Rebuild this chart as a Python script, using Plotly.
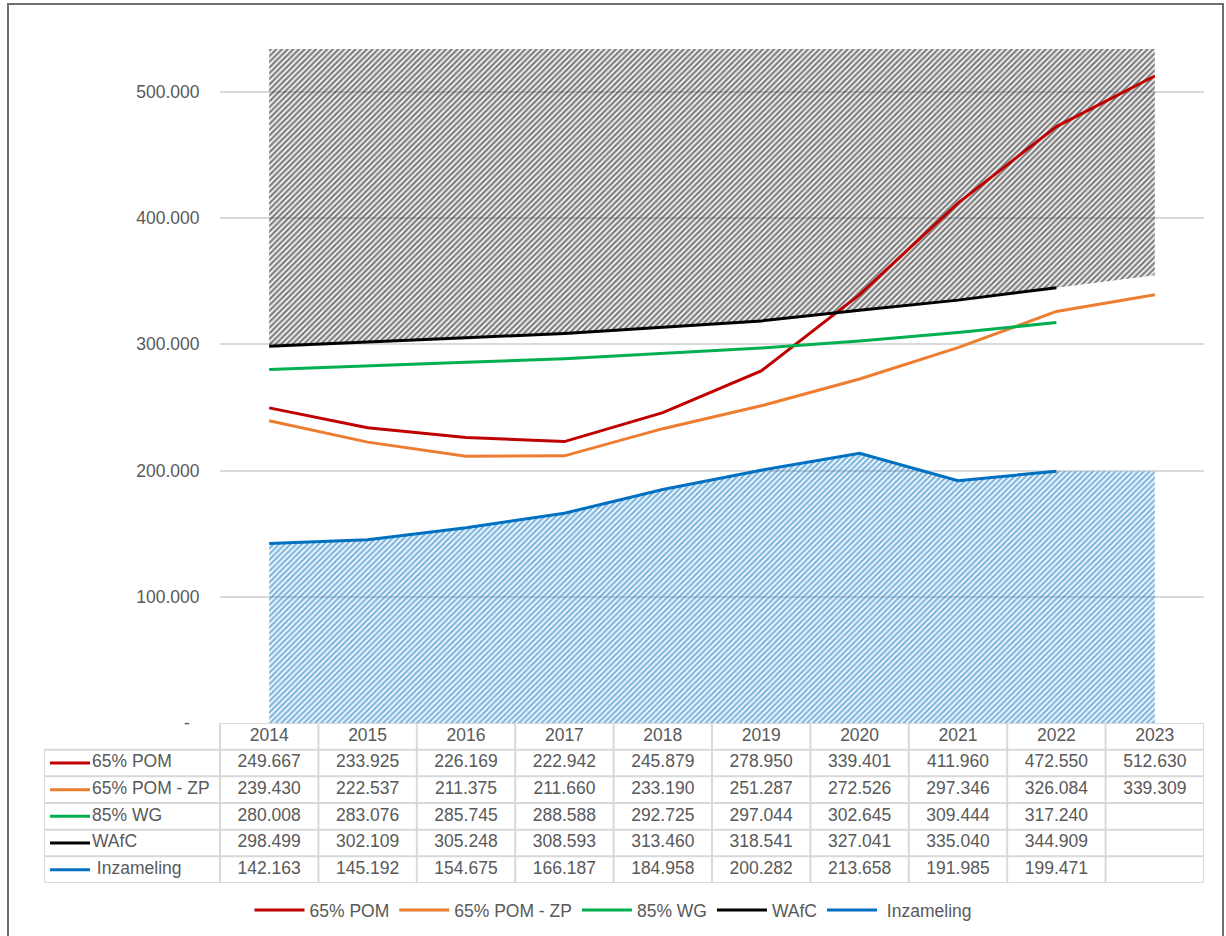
import plotly.graph_objects as go

# ---------------- data ----------------
years = [2014, 2015, 2016, 2017, 2018, 2019, 2020, 2021, 2022, 2023]
pom65 = [249667, 233925, 226169, 222942, 245879, 278950, 339401, 411960, 472550, 512630]
pom65_zp = [239430, 222537, 211375, 211660, 233190, 251287, 272526, 297346, 326084, 339309]
wg85 = [280008, 283076, 285745, 288588, 292725, 297044, 302645, 309444, 317240, None]
wafc = [298499, 302109, 305248, 308593, 313460, 318541, 327041, 335040, 344909, None]
inzameling = [142163, 145192, 154675, 166187, 184958, 200282, 213658, 191985, 199471, None]

# hidden helper series that drive the hatched bands (2023)
wafc_band_low = [298499, 302109, 305248, 308593, 313460, 318541, 327041, 335040, 344909, 354700]
inzameling_band = [142163, 145192, 154675, 166187, 184958, 200282, 213658, 191985, 199471, 199300]
y_max = 534000
band_top = [y_max] * len(years)

series_names = ["65% POM", "65% POM - ZP", "85% WG", "WAfC", "\u00a0Inzameling"]
series_values = [pom65, pom65_zp, wg85, wafc, inzameling]
series_colors = ["#C00000", "#ED7D31", "#00B050", "#000000", "#0070C0"]

y_ticks = [0, 100000, 200000, 300000, 400000, 500000]
y_ticktext = ["-\u00a0\u00a0", "100.000", "200.000", "300.000", "400.000", "500.000"]

# ---------------- geometry (pixels) ----------------
W, H = 1226, 936
PLOT_L, PLOT_R, PLOT_T, PLOT_B = 220, 1204, 49, 723
TABLE_L, TABLE_B = 44, 883
LEGEND_Y = 910
FONT = "Arial, Liberation Sans, sans-serif"
TXT = "#595959"
GRID = "#D9D9D9"
FS = 17.5

n = len(years)
xi = list(range(n))
col_w = (PLOT_R - PLOT_L) / n
x_left = -0.5 - (PLOT_L - TABLE_L) / col_w


def fmt(v):
    return "" if v is None else f"{v:,}".replace(",", ".")


fig = go.Figure()

# blue hatched band under Inzameling
fig.add_trace(go.Scatter(
    x=xi, y=inzameling_band, mode="none", fill="tozeroy",
    fillcolor="rgba(0,0,0,0)",
    fillpattern=dict(shape="/", fgcolor="#0070C0", bgcolor="rgba(0,0,0,0)", size=4, solidity=0.6),
    showlegend=False, hoverinfo="skip"))

# black hatched band above WAfC (closed polygon: top edge then WAfC back)
fig.add_trace(go.Scatter(
    x=xi + xi[::-1], y=band_top + wafc_band_low[::-1], mode="none", fill="toself",
    fillcolor="rgba(0,0,0,0)",
    fillpattern=dict(shape="/", fgcolor="#000000", bgcolor="rgba(0,0,0,0)", size=4, solidity=0.6),
    showlegend=False, hoverinfo="skip"))

# series lines
for name, vals, col in zip(series_names, series_values, series_colors):
    fig.add_trace(go.Scatter(x=xi, y=vals, mode="lines", name=name,
                             line=dict(color=col, width=3), connectgaps=False))

# ---------------- data table (xaxis2 / yaxis2) ----------------
n_rows = len(series_names) + 1
gx, gy = [], []
gx += [-0.5, n - 0.5, None]; gy += [0, 0, None]
for r in range(1, n_rows + 1):
    gx += [x_left, n - 0.5, None]; gy += [r, r, None]
for c in range(n + 1):
    gx += [c - 0.5, c - 0.5, None]; gy += [0, n_rows, None]
gx += [x_left, x_left, None]; gy += [1, n_rows, None]
fig.add_trace(go.Scatter(x=gx, y=gy, mode="lines", line=dict(color=GRID, width=2),
                         xaxis="x2", yaxis="y2", showlegend=False, hoverinfo="skip"))

fig.add_trace(go.Scatter(x=xi, y=[0.5] * n, mode="text", text=[str(y) for y in years],
                         textfont=dict(family=FONT, size=FS, color=TXT),
                         xaxis="x2", yaxis="y2", showlegend=False, hoverinfo="skip"))
tx, ty, tt = [], [], []
for r, vals in enumerate(series_values):
    for c, v in enumerate(vals):
        tx.append(c); ty.append(r + 1.5); tt.append(fmt(v))
fig.add_trace(go.Scatter(x=tx, y=ty, mode="text", text=tt,
                         textfont=dict(family=FONT, size=FS, color=TXT),
                         xaxis="x2", yaxis="y2", showlegend=False, hoverinfo="skip"))
key_x0 = x_left + 6 / col_w
key_x1 = x_left + 46 / col_w
lab_x = x_left + 48 / col_w
for r, (name, col) in enumerate(zip(series_names, series_colors)):
    fig.add_trace(go.Scatter(x=[key_x0, key_x1], y=[r + 1.5, r + 1.5], mode="lines",
                             line=dict(color=col, width=3),
                             xaxis="x2", yaxis="y2", showlegend=False, hoverinfo="skip"))
fig.add_trace(go.Scatter(x=[lab_x] * len(series_names),
                         y=[r + 1.5 for r in range(len(series_names))],
                         mode="text", text=series_names, textposition="middle right",
                         textfont=dict(family=FONT, size=FS, color=TXT),
                         xaxis="x2", yaxis="y2", showlegend=False, hoverinfo="skip"))

fig.update_layout(
    width=W, height=H,
    margin=dict(l=0, r=0, t=0, b=0, autoexpand=False),
    paper_bgcolor="white", plot_bgcolor="rgba(0,0,0,0)",
    font=dict(family=FONT, size=FS, color=TXT),
    xaxis=dict(domain=[PLOT_L / W, PLOT_R / W], range=[-0.5, n - 0.5], automargin=False,
               showgrid=False, zeroline=False, showticklabels=False, showline=False),
    yaxis=dict(domain=[1 - PLOT_B / H, 1 - PLOT_T / H], range=[0, y_max], automargin=False,
               tickvals=y_ticks, ticktext=y_ticktext,
               showgrid=True, gridcolor=GRID, gridwidth=1.5, zeroline=False, showline=False,
               ticks="outside", ticklen=16, tickcolor="rgba(0,0,0,0)",
               tickfont=dict(family=FONT, size=FS, color=TXT)),
    xaxis2=dict(domain=[TABLE_L / W, PLOT_R / W], range=[x_left, n - 0.5], visible=False,
                automargin=False),
    yaxis2=dict(domain=[1 - TABLE_B / H, 1 - PLOT_B / H], range=[n_rows, 0], visible=False,
                automargin=False),
    legend=dict(orientation="h", x=0.5, xanchor="center", y=1 - LEGEND_Y / H, yanchor="middle",
                traceorder="normal",
                font=dict(family=FONT, size=FS, color=TXT), bgcolor="rgba(0,0,0,0)",
                itemwidth=50),
    shapes=[dict(type="rect", xref="paper", yref="paper",
                 x0=8 / W, x1=1223 / W, y0=1 - 4 / H, y1=-0.05,
                 line=dict(color="#6E6E6E", width=2), fillcolor="rgba(0,0,0,0)")],
    showlegend=True,
)

fig.write_html("out.html", config={"displayModeBar": False},
               post_script="document.body.style.margin='0';")
